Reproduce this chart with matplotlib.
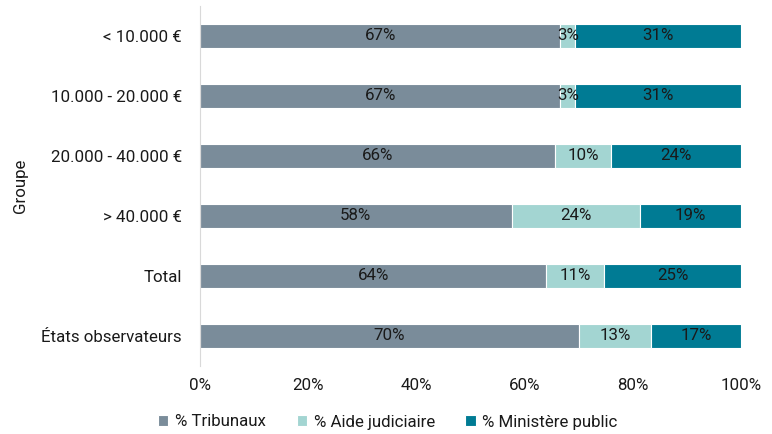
import matplotlib
matplotlib.use("Agg")
import matplotlib.pyplot as plt
import numpy as np

plt.rcParams['font.family'] = ['Roboto', 'DejaVu Sans']

categories = ["< 10.000 €", "10.000 - 20.000 €", "20.000 - 40.000 €", "> 40.000 €", "Total", "États observateurs"]
tribunaux = [66.6, 66.6, 65.6, 57.6, 64.0, 70.1]
aide = [2.8, 2.8, 10.4, 23.7, 10.7, 13.3]
ministere = [30.6, 30.6, 24.0, 18.7, 25.3, 16.6]
series_names = ["% Tribunaux", "% Aide judiciaire", "% Ministère public"]
colors = ["#7A8C9A", "#A3D5D2", "#007B94"]
xticks = [0, 20, 40, 60, 80, 100]

FS = 12.2
TC = "#1a1a1a"

fig = plt.figure(figsize=(7.72, 4.34), dpi=100)
ax = fig.add_axes([200/772, 1-366/434, 541/772, 360/434])

y = np.arange(len(categories))
left = np.zeros(len(categories))
for vals, name, col in zip([tribunaux, aide, ministere], series_names, colors):
    vals = np.array(vals)
    ax.barh(y, vals, left=left, height=0.4, color=col, edgecolor="white", linewidth=0.8, label=name)
    for yi, l, v in zip(y, left, vals):
        ax.text(l + v/2, yi, f"{v:.0f}%", ha="center", va="center", fontsize=FS, color=TC)
    left = left + vals

ax.set_ylim(len(categories)-0.5, -0.5)
ax.set_xlim(0, 100)
ax.set_yticks(y)
ax.set_yticklabels(categories, fontsize=FS, color=TC)
ax.set_xticks(xticks)
ax.set_xticklabels([f"{t}%" for t in xticks], fontsize=FS, color=TC)
ax.tick_params(axis="y", length=0, pad=13)
ax.tick_params(axis="x", length=0, pad=9)
for s in ["top", "right", "bottom"]:
    ax.spines[s].set_visible(False)
ax.spines["left"].set_color("#D9D9D9")
ax.set_ylabel("Groupe", fontsize=FS, color=TC)
ax.yaxis.set_label_coords(-0.318, 0.5)

leg = fig.legend(loc="center", bbox_to_anchor=(388/772, 1-422/434), ncol=3, frameon=False,
                 fontsize=FS, handlelength=0.6, handleheight=0.6, handletextpad=0.4, columnspacing=1.8)
for t in leg.get_texts():
    t.set_color(TC)

fig.savefig("out.png", dpi=100)
